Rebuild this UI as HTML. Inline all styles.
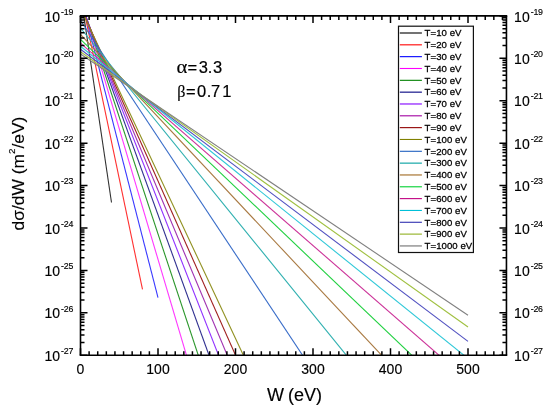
<!DOCTYPE html>
<html><head><meta charset="utf-8"><style>
html,body{margin:0;padding:0;background:#fff;}
svg{display:block;will-change:transform;}
text{font-family:"Liberation Sans",sans-serif;fill:#000;stroke:#000;stroke-width:0.15px;}
</style></head><body>
<svg width="550" height="406" viewBox="0 0 550 406">
<rect width="550" height="406" fill="#fff"/>
<defs><clipPath id="c"><rect x="80.5" y="15.9" width="425.95" height="339.35"/></clipPath></defs>
<g clip-path="url(#c)" stroke-width="1.1" fill="none">
<line x1="80.50" y1="-6.50" x2="111.50" y2="202.49" stroke="#303030"/>
<line x1="80.50" y1="-6.10" x2="142.50" y2="289.46" stroke="#ff3030"/>
<line x1="80.50" y1="-4.00" x2="158.00" y2="297.65" stroke="#3838ff"/>
<line x1="80.50" y1="-1.90" x2="468.00" y2="1304.29" stroke="#ff38ff"/>
<line x1="80.50" y1="0.20" x2="468.00" y2="1168.49" stroke="#2a962a"/>
<line x1="80.50" y1="1.50" x2="468.00" y2="1068.00" stroke="#303090"/>
<line x1="80.50" y1="3.50" x2="468.00" y2="990.89" stroke="#9030ff"/>
<line x1="80.50" y1="5.50" x2="468.00" y2="929.12" stroke="#a030b0"/>
<line x1="80.50" y1="6.80" x2="468.00" y2="877.60" stroke="#a02020"/>
<line x1="80.50" y1="8.00" x2="468.00" y2="834.11" stroke="#909020"/>
<line x1="80.50" y1="20.50" x2="468.00" y2="604.65" stroke="#386cc8"/>
<line x1="80.50" y1="28.00" x2="468.00" y2="504.95" stroke="#30b0b0"/>
<line x1="80.50" y1="34.30" x2="468.00" y2="447.35" stroke="#a87840"/>
<line x1="80.50" y1="39.40" x2="468.00" y2="408.85" stroke="#20d040"/>
<line x1="80.50" y1="43.20" x2="468.00" y2="380.46" stroke="#cc3399"/>
<line x1="80.50" y1="46.30" x2="468.00" y2="358.54" stroke="#30c8d8"/>
<line x1="80.50" y1="49.30" x2="468.00" y2="341.37" stroke="#5050c0"/>
<line x1="80.50" y1="51.70" x2="468.00" y2="327.07" stroke="#a0c040"/>
<line x1="80.50" y1="54.00" x2="468.00" y2="315.24" stroke="#808080"/>
</g>
<path d="M80.50,355.25v-7M80.50,15.9v7M158.00,355.25v-7M158.00,15.9v7M235.50,355.25v-7M235.50,15.9v7M313.00,355.25v-7M313.00,15.9v7M390.50,355.25v-7M390.50,15.9v7M468.00,355.25v-7M468.00,15.9v7M89.11,355.25v-4M89.11,15.9v4M97.72,355.25v-4M97.72,15.9v4M106.33,355.25v-4M106.33,15.9v4M114.94,355.25v-4M114.94,15.9v4M123.56,355.25v-4M123.56,15.9v4M132.17,355.25v-4M132.17,15.9v4M140.78,355.25v-4M140.78,15.9v4M149.39,355.25v-4M149.39,15.9v4M166.61,355.25v-4M166.61,15.9v4M175.22,355.25v-4M175.22,15.9v4M183.83,355.25v-4M183.83,15.9v4M192.44,355.25v-4M192.44,15.9v4M201.06,355.25v-4M201.06,15.9v4M209.67,355.25v-4M209.67,15.9v4M218.28,355.25v-4M218.28,15.9v4M226.89,355.25v-4M226.89,15.9v4M244.11,355.25v-4M244.11,15.9v4M252.72,355.25v-4M252.72,15.9v4M261.33,355.25v-4M261.33,15.9v4M269.94,355.25v-4M269.94,15.9v4M278.56,355.25v-4M278.56,15.9v4M287.17,355.25v-4M287.17,15.9v4M295.78,355.25v-4M295.78,15.9v4M304.39,355.25v-4M304.39,15.9v4M321.61,355.25v-4M321.61,15.9v4M330.22,355.25v-4M330.22,15.9v4M338.83,355.25v-4M338.83,15.9v4M347.44,355.25v-4M347.44,15.9v4M356.06,355.25v-4M356.06,15.9v4M364.67,355.25v-4M364.67,15.9v4M373.28,355.25v-4M373.28,15.9v4M381.89,355.25v-4M381.89,15.9v4M399.11,355.25v-4M399.11,15.9v4M407.72,355.25v-4M407.72,15.9v4M416.33,355.25v-4M416.33,15.9v4M424.94,355.25v-4M424.94,15.9v4M433.56,355.25v-4M433.56,15.9v4M442.17,355.25v-4M442.17,15.9v4M450.78,355.25v-4M450.78,15.9v4M459.39,355.25v-4M459.39,15.9v4M476.61,355.25v-4M476.61,15.9v4M485.22,355.25v-4M485.22,15.9v4M493.83,355.25v-4M493.83,15.9v4M502.44,355.25v-4M502.44,15.9v4M80.5,15.90h7M506.45,15.90h-7M80.5,58.32h7M506.45,58.32h-7M80.5,100.74h7M506.45,100.74h-7M80.5,143.16h7M506.45,143.16h-7M80.5,185.58h7M506.45,185.58h-7M80.5,227.99h7M506.45,227.99h-7M80.5,270.41h7M506.45,270.41h-7M80.5,312.83h7M506.45,312.83h-7M80.5,355.25h7M506.45,355.25h-7M80.5,45.55h4M506.45,45.55h-4M80.5,38.08h4M506.45,38.08h-4M80.5,32.78h4M506.45,32.78h-4M80.5,28.67h4M506.45,28.67h-4M80.5,25.31h4M506.45,25.31h-4M80.5,22.47h4M506.45,22.47h-4M80.5,20.01h4M506.45,20.01h-4M80.5,17.84h4M506.45,17.84h-4M80.5,87.97h4M506.45,87.97h-4M80.5,80.50h4M506.45,80.50h-4M80.5,75.20h4M506.45,75.20h-4M80.5,71.09h4M506.45,71.09h-4M80.5,67.73h4M506.45,67.73h-4M80.5,64.89h4M506.45,64.89h-4M80.5,62.43h4M506.45,62.43h-4M80.5,60.26h4M506.45,60.26h-4M80.5,130.39h4M506.45,130.39h-4M80.5,122.92h4M506.45,122.92h-4M80.5,117.62h4M506.45,117.62h-4M80.5,113.51h4M506.45,113.51h-4M80.5,110.15h4M506.45,110.15h-4M80.5,107.31h4M506.45,107.31h-4M80.5,104.85h4M506.45,104.85h-4M80.5,102.68h4M506.45,102.68h-4M80.5,172.81h4M506.45,172.81h-4M80.5,165.34h4M506.45,165.34h-4M80.5,160.04h4M506.45,160.04h-4M80.5,155.93h4M506.45,155.93h-4M80.5,152.57h4M506.45,152.57h-4M80.5,149.73h4M506.45,149.73h-4M80.5,147.27h4M506.45,147.27h-4M80.5,145.10h4M506.45,145.10h-4M80.5,215.22h4M506.45,215.22h-4M80.5,207.75h4M506.45,207.75h-4M80.5,202.46h4M506.45,202.46h-4M80.5,198.34h4M506.45,198.34h-4M80.5,194.99h4M506.45,194.99h-4M80.5,192.15h4M506.45,192.15h-4M80.5,189.69h4M506.45,189.69h-4M80.5,187.52h4M506.45,187.52h-4M80.5,257.64h4M506.45,257.64h-4M80.5,250.17h4M506.45,250.17h-4M80.5,244.87h4M506.45,244.87h-4M80.5,240.76h4M506.45,240.76h-4M80.5,237.40h4M506.45,237.40h-4M80.5,234.56h4M506.45,234.56h-4M80.5,232.10h4M506.45,232.10h-4M80.5,229.93h4M506.45,229.93h-4M80.5,300.06h4M506.45,300.06h-4M80.5,292.59h4M506.45,292.59h-4M80.5,287.29h4M506.45,287.29h-4M80.5,283.18h4M506.45,283.18h-4M80.5,279.82h4M506.45,279.82h-4M80.5,276.98h4M506.45,276.98h-4M80.5,274.52h4M506.45,274.52h-4M80.5,272.35h4M506.45,272.35h-4M80.5,342.48h4M506.45,342.48h-4M80.5,335.01h4M506.45,335.01h-4M80.5,329.71h4M506.45,329.71h-4M80.5,325.60h4M506.45,325.60h-4M80.5,322.24h4M506.45,322.24h-4M80.5,319.40h4M506.45,319.40h-4M80.5,316.94h4M506.45,316.94h-4M80.5,314.77h4M506.45,314.77h-4" stroke="#000" stroke-width="1.5" fill="none"/>
<path d="M79.7,15.9H507.25" stroke="#000" stroke-width="1.8"/>
<path d="M79.7,355.25H507.25" stroke="#000" stroke-width="1.35"/>
<path d="M80.5,15.9V355.25M506.45,15.9V355.25" stroke="#000" stroke-width="1.6"/>
<rect x="398.5" y="26.2" width="74.89999999999998" height="226.3" fill="#fff" stroke="#111" stroke-width="1.2"/>
<line x1="399.8" y1="33.00" x2="421.9" y2="33.00" stroke="#000000" stroke-width="1.1"/>
<text x="424.6" y="36.30" font-size="9.6" letter-spacing="0.05" style="stroke-width:0.28px">T=10 eV</text>
<line x1="399.8" y1="44.83" x2="421.9" y2="44.83" stroke="#ff0000" stroke-width="1.1"/>
<text x="424.6" y="48.13" font-size="9.6" letter-spacing="0.05" style="stroke-width:0.28px">T=20 eV</text>
<line x1="399.8" y1="56.66" x2="421.9" y2="56.66" stroke="#0000ff" stroke-width="1.1"/>
<text x="424.6" y="59.96" font-size="9.6" letter-spacing="0.05" style="stroke-width:0.28px">T=30 eV</text>
<line x1="399.8" y1="68.49" x2="421.9" y2="68.49" stroke="#ff00ff" stroke-width="1.1"/>
<text x="424.6" y="71.79" font-size="9.6" letter-spacing="0.05" style="stroke-width:0.28px">T=40 eV</text>
<line x1="399.8" y1="80.32" x2="421.9" y2="80.32" stroke="#008000" stroke-width="1.1"/>
<text x="424.6" y="83.62" font-size="9.6" letter-spacing="0.05" style="stroke-width:0.28px">T=50 eV</text>
<line x1="399.8" y1="92.15" x2="421.9" y2="92.15" stroke="#000080" stroke-width="1.1"/>
<text x="424.6" y="95.45" font-size="9.6" letter-spacing="0.05" style="stroke-width:0.28px">T=60 eV</text>
<line x1="399.8" y1="103.98" x2="421.9" y2="103.98" stroke="#8000ff" stroke-width="1.1"/>
<text x="424.6" y="107.28" font-size="9.6" letter-spacing="0.05" style="stroke-width:0.28px">T=70 eV</text>
<line x1="399.8" y1="115.81" x2="421.9" y2="115.81" stroke="#a000a0" stroke-width="1.1"/>
<text x="424.6" y="119.11" font-size="9.6" letter-spacing="0.05" style="stroke-width:0.28px">T=80 eV</text>
<line x1="399.8" y1="127.64" x2="421.9" y2="127.64" stroke="#900000" stroke-width="1.1"/>
<text x="424.6" y="130.94" font-size="9.6" letter-spacing="0.05" style="stroke-width:0.28px">T=90 eV</text>
<line x1="399.8" y1="139.47" x2="421.9" y2="139.47" stroke="#808000" stroke-width="1.1"/>
<text x="424.6" y="142.77" font-size="9.6" letter-spacing="0.05" style="stroke-width:0.28px">T=100 eV</text>
<line x1="399.8" y1="151.30" x2="421.9" y2="151.30" stroke="#2060c0" stroke-width="1.1"/>
<text x="424.6" y="154.60" font-size="9.6" letter-spacing="0.05" style="stroke-width:0.28px">T=200 eV</text>
<line x1="399.8" y1="163.13" x2="421.9" y2="163.13" stroke="#00a0a0" stroke-width="1.1"/>
<text x="424.6" y="166.43" font-size="9.6" letter-spacing="0.05" style="stroke-width:0.28px">T=300 eV</text>
<line x1="399.8" y1="174.96" x2="421.9" y2="174.96" stroke="#a06820" stroke-width="1.1"/>
<text x="424.6" y="178.26" font-size="9.6" letter-spacing="0.05" style="stroke-width:0.28px">T=400 eV</text>
<line x1="399.8" y1="186.79" x2="421.9" y2="186.79" stroke="#00d030" stroke-width="1.1"/>
<text x="424.6" y="190.09" font-size="9.6" letter-spacing="0.05" style="stroke-width:0.28px">T=500 eV</text>
<line x1="399.8" y1="198.62" x2="421.9" y2="198.62" stroke="#c00080" stroke-width="1.1"/>
<text x="424.6" y="201.92" font-size="9.6" letter-spacing="0.05" style="stroke-width:0.28px">T=600 eV</text>
<line x1="399.8" y1="210.45" x2="421.9" y2="210.45" stroke="#00c0d8" stroke-width="1.1"/>
<text x="424.6" y="213.75" font-size="9.6" letter-spacing="0.05" style="stroke-width:0.28px">T=700 eV</text>
<line x1="399.8" y1="222.28" x2="421.9" y2="222.28" stroke="#3030b0" stroke-width="1.1"/>
<text x="424.6" y="225.58" font-size="9.6" letter-spacing="0.05" style="stroke-width:0.28px">T=800 eV</text>
<line x1="399.8" y1="234.11" x2="421.9" y2="234.11" stroke="#90b020" stroke-width="1.1"/>
<text x="424.6" y="237.41" font-size="9.6" letter-spacing="0.05" style="stroke-width:0.28px">T=900 eV</text>
<line x1="399.8" y1="245.94" x2="421.9" y2="245.94" stroke="#707070" stroke-width="1.1"/>
<text x="424.6" y="249.24" font-size="9.6" letter-spacing="0.05" style="stroke-width:0.28px">T=1000 eV</text>
<text x="44.5" y="21.50" font-size="14">10</text><text x="61.1" y="14.60" font-size="8.8" letter-spacing="-0.2">-19</text>
<text x="514.1" y="21.50" font-size="14">10</text><text x="530.7" y="14.60" font-size="8.8" letter-spacing="-0.2">-19</text>
<text x="44.5" y="63.92" font-size="14">10</text><text x="61.1" y="57.02" font-size="8.8" letter-spacing="-0.2">-20</text>
<text x="514.1" y="63.92" font-size="14">10</text><text x="530.7" y="57.02" font-size="8.8" letter-spacing="-0.2">-20</text>
<text x="44.5" y="106.34" font-size="14">10</text><text x="61.1" y="99.44" font-size="8.8" letter-spacing="-0.2">-21</text>
<text x="514.1" y="106.34" font-size="14">10</text><text x="530.7" y="99.44" font-size="8.8" letter-spacing="-0.2">-21</text>
<text x="44.5" y="148.76" font-size="14">10</text><text x="61.1" y="141.86" font-size="8.8" letter-spacing="-0.2">-22</text>
<text x="514.1" y="148.76" font-size="14">10</text><text x="530.7" y="141.86" font-size="8.8" letter-spacing="-0.2">-22</text>
<text x="44.5" y="191.18" font-size="14">10</text><text x="61.1" y="184.28" font-size="8.8" letter-spacing="-0.2">-23</text>
<text x="514.1" y="191.18" font-size="14">10</text><text x="530.7" y="184.28" font-size="8.8" letter-spacing="-0.2">-23</text>
<text x="44.5" y="233.59" font-size="14">10</text><text x="61.1" y="226.69" font-size="8.8" letter-spacing="-0.2">-24</text>
<text x="514.1" y="233.59" font-size="14">10</text><text x="530.7" y="226.69" font-size="8.8" letter-spacing="-0.2">-24</text>
<text x="44.5" y="276.01" font-size="14">10</text><text x="61.1" y="269.11" font-size="8.8" letter-spacing="-0.2">-25</text>
<text x="514.1" y="276.01" font-size="14">10</text><text x="530.7" y="269.11" font-size="8.8" letter-spacing="-0.2">-25</text>
<text x="44.5" y="318.43" font-size="14">10</text><text x="61.1" y="311.53" font-size="8.8" letter-spacing="-0.2">-26</text>
<text x="514.1" y="318.43" font-size="14">10</text><text x="530.7" y="311.53" font-size="8.8" letter-spacing="-0.2">-26</text>
<text x="44.5" y="360.85" font-size="14">10</text><text x="61.1" y="353.95" font-size="8.8" letter-spacing="-0.2">-27</text>
<text x="514.1" y="360.85" font-size="14">10</text><text x="530.7" y="353.95" font-size="8.8" letter-spacing="-0.2">-27</text>
<text x="80.50" y="374" text-anchor="middle" font-size="14">0</text>
<text x="158.00" y="374" text-anchor="middle" font-size="14">100</text>
<text x="235.50" y="374" text-anchor="middle" font-size="14">200</text>
<text x="313.00" y="374" text-anchor="middle" font-size="14">300</text>
<text x="390.50" y="374" text-anchor="middle" font-size="14">400</text>
<text x="468.00" y="374" text-anchor="middle" font-size="14">500</text>
<text transform="translate(176.4,73.2) scale(1.12,1)" x="0" y="0" style="font-family:'Liberation Serif';font-size:18.5px;stroke-width:0.15px">α</text>
<text y="73.4" font-size="16.5" style="stroke-width:0.2px"><tspan x="187.4">=</tspan><tspan x="198.8">3</tspan><tspan x="207.8">.</tspan><tspan x="212.9">3</tspan></text>
<text x="177.2" y="96.8" style="font-family:'Liberation Serif';font-size:16.1px;stroke-width:0.15px">β</text>
<text y="96.6" font-size="16.5" style="stroke-width:0.2px"><tspan x="186.1">=</tspan><tspan x="196.9">0</tspan><tspan x="206.8">.</tspan><tspan x="211.1">7</tspan><tspan x="222.2">1</tspan></text>
<text y="401.2" font-size="18"><tspan x="266.9">W</tspan><tspan x="288.0">(eV)</tspan></text>
<text transform="translate(24.4,173.6) rotate(-90)" text-anchor="middle" font-size="17.4">dσ/dW (m<tspan font-size="9.8" dy="-9.3">2</tspan><tspan dy="9.3">/eV)</tspan></text>
</svg>
</body></html>
